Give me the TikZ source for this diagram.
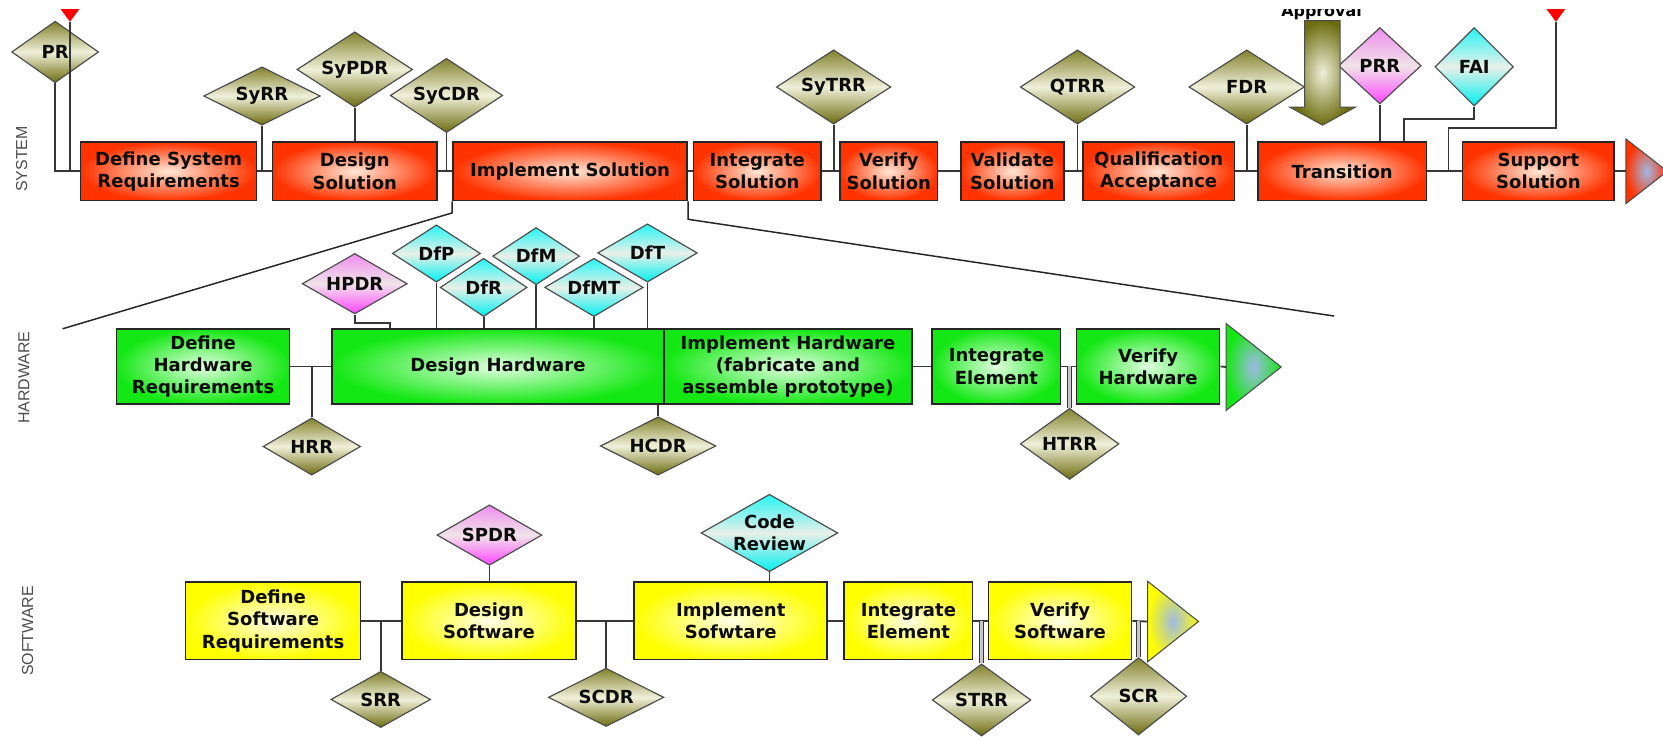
\documentclass[tikz,border=0pt]{standalone}
\usepackage{fontspec}
\setmainfont{DejaVu Sans}
\newfontfamily\lblfont{Liberation Sans}
\usetikzlibrary{shapes.geometric}
\definecolor{sysred}{RGB}{255,51,0}
\definecolor{sysin}{RGB}{255,232,215}
\definecolor{hwgreen}{RGB}{20,232,20}
\definecolor{hwin}{RGB}{225,255,225}
\definecolor{swyellow}{RGB}{255,255,0}
\definecolor{swin}{RGB}{255,255,232}
\definecolor{olvtop}{RGB}{130,130,45}
\definecolor{olvbot}{RGB}{108,108,15}
\definecolor{olvlight}{RGB}{240,240,218}
\definecolor{pinkt}{RGB}{238,140,238}
\definecolor{pinkb}{RGB}{255,70,255}
\definecolor{pinkm}{RGB}{240,228,232}
\definecolor{cyant}{RGB}{40,245,245}
\definecolor{cyanb}{RGB}{0,240,240}
\definecolor{cyanm}{RGB}{232,240,232}
\definecolor{lineg}{RGB}{55,55,55}
\definecolor{tricore}{RGB}{160,185,230}
\newcommand\bxfont{\fontsize{17}{21}\selectfont\bfseries}
\tikzset{
  box/.style={draw=black!85, line width=1.5pt, inner sep=0pt, align=center, font=\bxfont, text=black!95},
  syb/.style={box, inner color=sysin, outer color=sysred, minimum height=55pt},
  hwb/.style={box, inner color=hwin, outer color=hwgreen, minimum height=71pt},
  swb/.style={box, inner color=swin, outer color=swyellow, minimum height=73pt},
  dia/.style={diamond, draw=black!70, line width=1.1pt, inner sep=0pt},
  oldia/.style={dia, top color=olvtop, bottom color=olvbot, middle color=olvlight},
  pkdia/.style={dia, top color=pinkt, bottom color=pinkb, middle color=pinkm},
  cydia/.style={dia, top color=cyant, bottom color=cyanb, middle color=cyanm},
  dtext/.style={font=\bxfont, text=black!95, inner sep=0pt, align=center},
  conn/.style={draw=lineg, line width=1.7pt},
  dconn/.style={draw=lineg, line width=1.1pt, double=black!22, double distance=2.2pt},
  zline/.style={draw=black!85, line width=1.4pt},
  endtri/.style={draw=black!70, line width=1pt, inner color=tricore},
  lane/.style={rotate=90, font=\lblfont\fontsize{15}{18}\selectfont, text=black!70}
}
\begin{document}
\begin{tikzpicture}[x=1pt,y=-1pt]
\useasboundingbox (0,0) rectangle (1568,694);
\begin{scope}
\clip (0,9) rectangle (1568,694);
% lane labels
\node[lane] (lsys) at (20.5,150) {SYSTEM};
\node[lane] (lhw) at (22.5,356) {HARDWARE};
\node[lane] (lsw) at (26,595) {SOFTWARE};

% ---------------- SYSTEM ----------------
\node[syb, minimum width=166pt] (sdef) at (159,161.5) {Define System\\Requirements};
\node[syb, minimum width=155pt] (sdes) at (334.5,161.5) {Design\\Solution};
\node[syb, minimum width=221pt] (simp) at (537.5,161.5) {Implement Solution};
\node[syb, minimum width=120pt] (sint) at (714,161.5) {Integrate\\Solution};
\node[syb, minimum width=92pt] (sver) at (838,161.5) {Verify\\Solution};
\node[syb, minimum width=97pt] (sval) at (954.5,161.5) {Validate\\Solution};
\node[syb, minimum width=143pt] (squa) at (1092.5,161.5) {Qualification\\Acceptance};
\node[syb, minimum width=159pt] (stra) at (1265.5,161.5) {Transition};
\node[syb, minimum width=143pt] (ssup) at (1450.5,161.5) {Support\\Solution};
\shade[endtri, outer color=sysred] (1533,131) -- (1572,161.5) -- (1533,192) -- cycle;
\coordinate (stri) at (1533,161.5);

\node[oldia, minimum width=82pt, minimum height=58pt, label={[dtext]center:PR}] (pr) at (52,49) {};
\node[oldia, minimum width=110pt, minimum height=55pt, label={[dtext]center:SyRR}] (syrr) at (247,90.5) {};
\node[oldia, minimum width=109pt, minimum height=71pt, label={[dtext]center:SyPDR}] (sypdr) at (334.5,65.5) {};
\node[oldia, minimum width=106pt, minimum height=70pt, label={[dtext]center:SyCDR}] (sycdr) at (421,90) {};
\node[oldia, minimum width=108pt, minimum height=70pt, label={[dtext]center:SyTRR}] (sytrr) at (786,82) {};
\node[oldia, minimum width=108pt, minimum height=70pt, label={[dtext]center:QTRR}] (qtrr) at (1016,82) {};
\node[oldia, minimum width=109pt, minimum height=70pt, label={[dtext]center:FDR}] (fdr) at (1175.5,82) {};
\node[pkdia, minimum width=78pt, minimum height=72pt, label={[dtext]center:PRR}] (prr) at (1301,62) {};
\node[cydia, minimum width=74pt, minimum height=74pt, label={[dtext]center:FAI}] (fai) at (1390,63) {};

% red start markers
\fill[red] (54.5,5) -- (77.5,5) -- (66,20.5) -- cycle;
\coordinate (tl) at (66,20.5);
\fill[red] (1455.5,5) -- (1478.5,5) -- (1467,20.5) -- cycle;
\coordinate (tr) at (1467,20.5);

% approval arrow
\node[font=\fontsize{15}{18}\selectfont\bfseries, anchor=base, inner sep=0pt] (appr) at (1246,16) {Approval};
\shade[draw=black!70, line width=0.9pt, inner color=olvlight, outer color=olvbot]
  (1230,19.5) -- (1263.5,19.5) -- (1263.5,101) -- (1278,101) -- (1247,118) -- (1216,101) -- (1230,101) -- cycle;

% system connectors
\draw[conn] (pr.south) |- (sdef.west);
\draw[conn] (tl) -- (tl |- sdef.west);
\draw[conn] (sdef.east) -- (sdes.west);
\draw[conn] (sdes.east) -- (simp.west);
\draw[conn] (simp.east) -- (sint.west);
\draw[conn] (sint.east) -- (sver.west);
\draw[conn] (sver.east) -- (sval.west);
\draw[conn] (sval.east) -- (squa.west);
\draw[conn] (squa.east) -- (stra.west);
\draw[conn] (stra.east) -- (ssup.west);
\draw[conn] (ssup.east) -- (stri);
\draw[conn] (syrr.south) -- (syrr.south |- sdef.east);
\draw[conn] (sypdr.south) -- (sdes.north);
\draw[conn] (sycdr.south) -- (sycdr.south |- sdes.east);
\draw[conn] (sytrr.south) -- (sytrr.south |- sint.east);
\draw[conn] (qtrr.south) -- (qtrr.south |- sval.east);
\draw[conn] (fdr.south) -- (fdr.south |- squa.east);
\draw[conn] (prr.south) -- (prr.south |- stra.north);
\draw[conn] (fai.south) -- ++(0,12) -| ([xshift=58.5pt]stra.north);
\draw[conn] (tr) -- ++(0,100) -| ([xshift=20pt]stra.east);

% zoom lines
\coordinate (zl) at (59,310);
\coordinate (zr) at (1258,298);
\draw[zline] (simp.south west) -- ++(0,11) -- (zl);
\draw[zline] (simp.south east) -- ++(0,17) -- (zr);

% ---------------- HARDWARE ----------------
\node[hwb, minimum width=163pt] (hdef) at (191.5,345.5) {Define\\Hardware\\Requirements};
\node[hwb, minimum width=313pt] (hdes) at (469.5,345.5) {Design Hardware};
\node[hwb, minimum width=234pt] (himp) at (743,345.5) {Implement Hardware\\(fabricate and\\assemble prototype)};
\node[hwb, minimum width=121pt] (hint) at (939.5,345.5) {Integrate\\Element};
\node[hwb, minimum width=135pt] (hver) at (1082.5,345.5) {Verify\\Hardware};
\shade[endtri, outer color=hwgreen] (1156,305) -- (1208,346) -- (1156,387) -- cycle;
\coordinate (htri) at (1156,346);

\node[pkdia, minimum width=99pt, minimum height=57pt, label={[dtext]center:HPDR}] (hpdr) at (334.5,267.5) {};
\node[cydia, minimum width=83pt, minimum height=54pt, label={[dtext]center:DfP}] (dfp) at (411.5,239) {};
\node[cydia, minimum width=82pt, minimum height=55pt, label={[dtext]center:DfR}] (dfr) at (456,271) {};
\node[cydia, minimum width=82pt, minimum height=54pt, label={[dtext]center:DfM}] (dfm) at (505.5,241.5) {};
\node[cydia, minimum width=93pt, minimum height=55pt, label={[dtext]center:DfMT}] (dfmt) at (560,271) {};
\node[cydia, minimum width=94pt, minimum height=55pt, label={[dtext]center:DfT}] (dft) at (610.5,238.5) {};
\node[oldia, minimum width=92pt, minimum height=54pt, label={[dtext]center:HRR}] (hrr) at (294,421) {};
\node[oldia, minimum width=109pt, minimum height=55pt, label={[dtext]center:HCDR}] (hcdr) at (620.5,420.5) {};
\node[oldia, minimum width=93pt, minimum height=67pt, label={[dtext]center:HTRR}] (htrr) at (1008.5,418.5) {};

\draw[conn] (hdef.east) -- (hdes.west);
\draw[conn] (himp.east) -- (hint.west);
\draw[conn] (hint.east) -- (hver.west);
\draw[conn] (hver.east) -- (htri);
\draw[conn] (hrr.north) -- (hrr.north |- hdef.east);
\draw[conn] (hpdr.south) -- ++(0,8) -| ([xshift=-101.5pt]hdes.north);
\draw[conn] (dfp.south) -- (dfp.south |- hdes.north);
\draw[conn] (dfr.south) -- (dfr.south |- hdes.north);
\draw[conn] (dfm.south) -- (dfm.south |- hdes.north);
\draw[conn] (dfmt.south) -- (dfmt.south |- hdes.north);
\draw[conn] (dft.south) -- (dft.south |- hdes.north);
\draw[conn] (hcdr.north) -- (hcdr.north |- hdes.south);
\draw[dconn] (htrr.north) -- (htrr.north |- hint.east);

% ---------------- SOFTWARE ----------------
\node[swb, minimum width=165pt] (wdef) at (257.5,585.5) {Define\\Software\\Requirements};
\node[swb, minimum width=164pt] (wdes) at (461,585.5) {Design\\Software};
\node[swb, minimum width=182pt] (wimp) at (689,585.5) {Implement\\Sofwtare};
\node[swb, minimum width=121pt] (wint) at (856.5,585.5) {Integrate\\Element};
\node[swb, minimum width=135pt] (wver) at (999.5,585.5) {Verify\\Software};
\shade[endtri, outer color=swyellow] (1082,548) -- (1130,586) -- (1082,624) -- cycle;
\coordinate (wtri) at (1082,586);

\node[pkdia, minimum width=99pt, minimum height=57pt, label={[dtext]center:SPDR}] (spdr) at (461.5,504.5) {};
\node[cydia, minimum width=129pt, minimum height=73pt, label={[dtext]center:{Code\\Review}}] (crev) at (725.5,502.5) {};
\node[oldia, minimum width=94pt, minimum height=53pt, label={[dtext]center:SRR}] (srr) at (359,659.5) {};
\node[oldia, minimum width=109pt, minimum height=55pt, label={[dtext]center:SCDR}] (scdr) at (571.5,657.5) {};
\node[oldia, minimum width=93pt, minimum height=68pt, label={[dtext]center:STRR}] (strr) at (925.5,660) {};
\node[oldia, minimum width=91pt, minimum height=73pt, label={[dtext]center:SCR}] (scr) at (1073.5,656.5) {};

\draw[conn] (wdef.east) -- (wdes.west);
\draw[conn] (wdes.east) -- (wimp.west);
\draw[conn] (wimp.east) -- (wint.west);
\draw[conn] (wint.east) -- (wver.west);
\draw[conn] (wver.east) -- (wtri);
\draw[conn] (spdr.south) -- (spdr.south |- wdes.north);
\draw[conn] (crev.south) -- (crev.south |- wimp.north);
\draw[conn] (srr.north) -- (srr.north |- wdef.east);
\draw[conn] (scdr.north) -- (scdr.north |- wdes.east);
\draw[dconn] (strr.north) -- (strr.north |- wint.east);
\draw[dconn] (scr.north) -- (scr.north |- wver.east);
\end{scope}
\end{tikzpicture}
\end{document}
